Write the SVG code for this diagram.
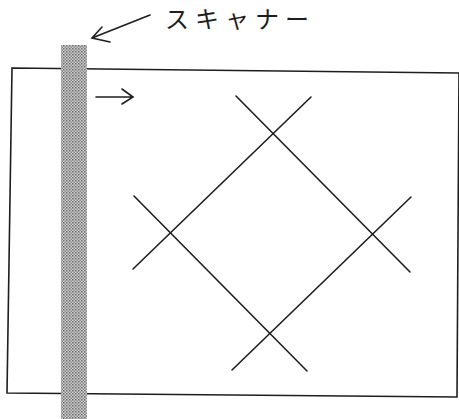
<svg xmlns="http://www.w3.org/2000/svg" width="459" height="419" viewBox="0 0 459 419">
<style>
.ln{stroke:#1e1e1e;stroke-width:1.6;fill:none;stroke-linecap:round}
.lbl{font-family:"Noto Sans CJK JP","Noto Sans",sans-serif;font-size:24px;fill:#1e1e1e;letter-spacing:6px}
</style>
<defs>
<pattern id="stip" width="3" height="3" patternUnits="userSpaceOnUse">
<rect width="3" height="3" fill="#cfcfcf"/>
<rect width="1.5" height="1.5" fill="#6a6a6a"/>
<rect x="1.5" y="1.5" width="1.5" height="1.5" fill="#8a8a8a"/>
</pattern>
</defs>
<rect width="459" height="419" fill="#ffffff"/>
<g id="paper">
<polygon class="ln" points="12,68 459,73 457,397 7,393"/>
</g>
<g id="scanner">
<rect x="61" y="45" width="26" height="374" fill="url(#stip)"/>
</g>
<g id="label">
<text class="lbl" x="165" y="28">スキャナー</text>
</g>
<g id="grid">
<line class="ln" x1="236" y1="96" x2="410" y2="272"/>
<line class="ln" x1="311" y1="97" x2="133" y2="269"/>
<line class="ln" x1="134" y1="196" x2="307" y2="371"/>
<line class="ln" x1="232" y1="370" x2="411" y2="197"/>
</g>
<g id="connectors">
<path class="ln" d="M150,15 L92,38 M102,27 L92,38 L110,42"/>
<path class="ln" d="M96,97 L133,97 M122,89 L133,97 L122,104"/>
</g>
</svg>
